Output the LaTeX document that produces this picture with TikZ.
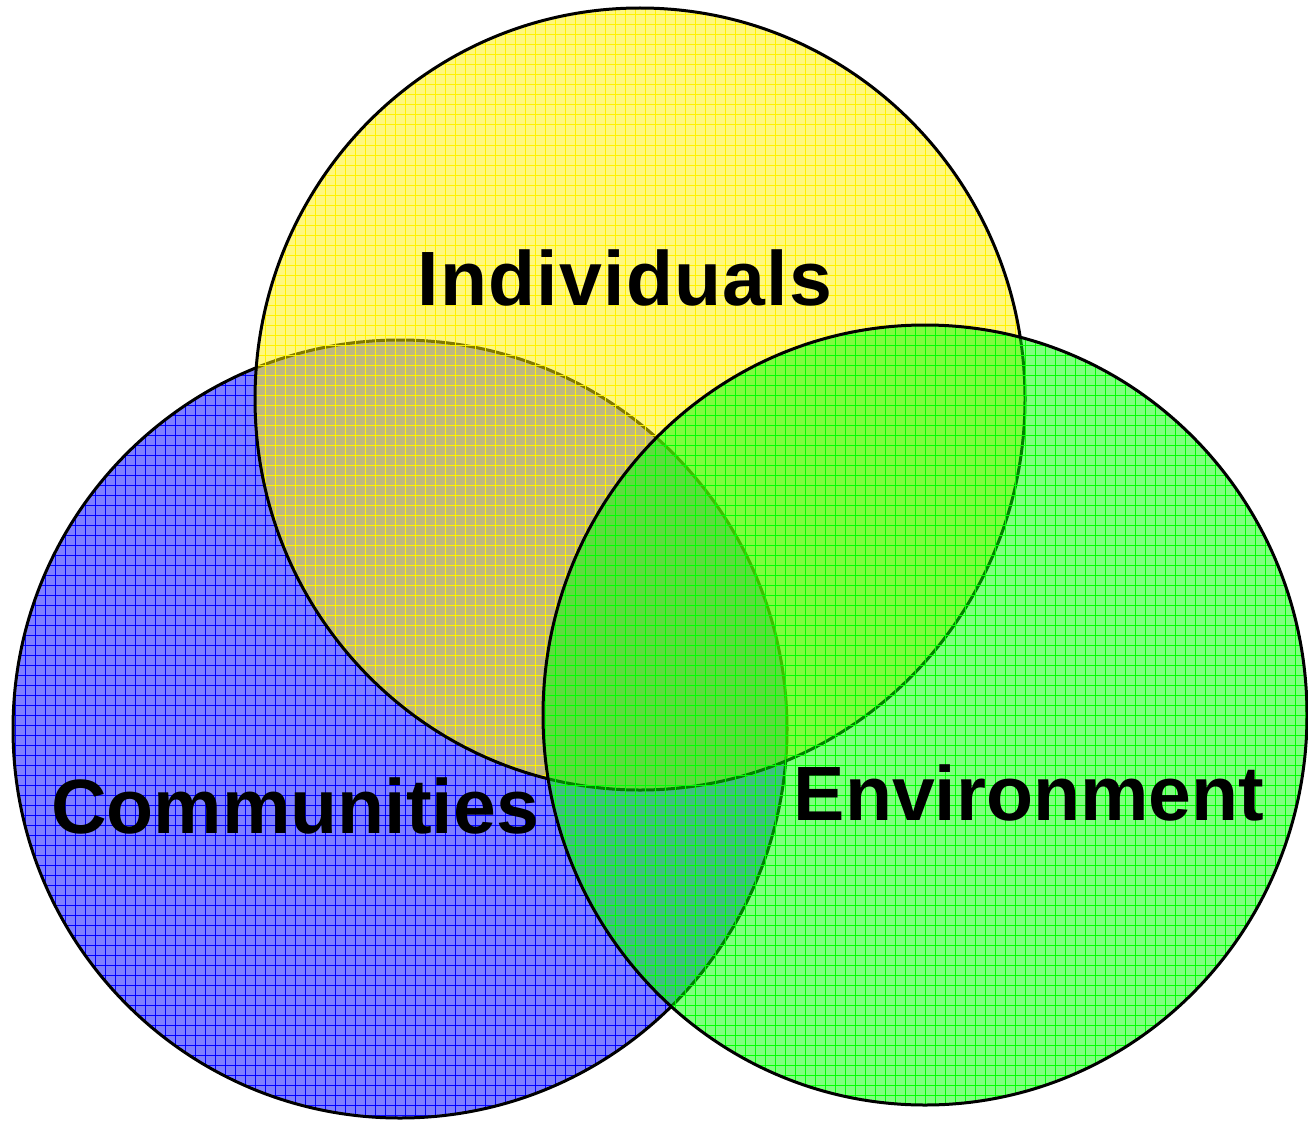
\documentclass[tikz,border=0pt]{standalone}
\usepackage{fontspec}
\setmainfont{Liberation Sans}
\newfontfamily\spacedfont[LetterSpace=1.6]{Liberation Sans}
\begin{document}
\begin{tikzpicture}[x=1pt,y=-1pt,
  lbl/.style={font=\fontsize{77}{80}\selectfont\bfseries, text=black, anchor=base, inner sep=0pt},
  outline/.style={draw=black, line width=3pt}]
\useasboundingbox (0,0) rectangle (1308,1121);
% Communities (blue)
\begin{scope}
  \clip (400,729) ellipse [x radius=387, y radius=389];
  \fill[blue, opacity=0.5] (0,0) rectangle (1308,1121);
  \foreach \g in {5,15,...,1305} \draw[blue, line width=1pt] (\g,0) -- (\g,1121);
  \foreach \g in {5,15,...,1125} \draw[blue, line width=1pt] (0,\g) -- (1308,\g);
\end{scope}
\draw[outline] (400,729) ellipse [x radius=387, y radius=389];
% Individuals (yellow)
\begin{scope}
  \clip (640,399) ellipse [x radius=385, y radius=391];
  \fill[yellow, opacity=0.5] (0,0) rectangle (1308,1121);
  \foreach \g in {5,15,...,1305} \draw[yellow, line width=1pt] (\g,0) -- (\g,1121);
  \foreach \g in {5,15,...,1125} \draw[yellow, line width=1pt] (0,\g) -- (1308,\g);
\end{scope}
\draw[outline] (640,399) ellipse [x radius=385, y radius=391];
% Environment (green)
\begin{scope}
  \clip (925,715) ellipse [x radius=382, y radius=390];
  \fill[green, opacity=0.5] (0,0) rectangle (1308,1121);
  \foreach \g in {5,15,...,1305} \draw[green, line width=1pt] (\g,0) -- (\g,1121);
  \foreach \g in {5,15,...,1125} \draw[green, line width=1pt] (0,\g) -- (1308,\g);
\end{scope}
\draw[outline] (925,715) ellipse [x radius=382, y radius=390];
% Labels
\node[lbl, font=\fontsize{77}{80}\spacedfont\bfseries] (ind) at (625,305) {Individuals};
\node[lbl] (com) at (295,833) {Communities};
\node[lbl] (env) at (1029,820) {Environment};
\end{tikzpicture}
\end{document}
